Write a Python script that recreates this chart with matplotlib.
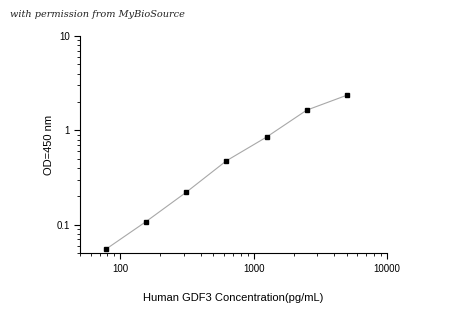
"""
Standard curve: Human GDF3 ELISA, OD at 450 nm vs concentration (log-log).
"""

import matplotlib
matplotlib.use("Agg")
import matplotlib.pyplot as plt
from matplotlib.ticker import LogLocator, FixedLocator, FixedFormatter, NullFormatter

concentration = [78.125, 156.25, 312.5, 625, 1250, 2500, 5000]
od450 = [0.055, 0.108, 0.221, 0.476, 0.85, 1.64, 2.36]

x_ticks = [100, 1000, 10000]
x_tick_labels = ["100", "1000", "10000"]
y_ticks = [0.1, 1, 10]
y_tick_labels = ["0.1", "1", "10"]

plt.rcParams["font.family"] = ["Liberation Sans", "DejaVu Sans"]

fig = plt.figure(figsize=(4.5, 3.14), dpi=100)
ax = fig.add_axes([0.178, 0.194, 0.682, 0.691])

ax.plot(concentration, od450, "-", color="#a8a8a8", lw=0.8, zorder=2)
ax.plot(concentration, od450, "s", color="black", ms=3.5, zorder=3)

ax.set_xscale("log")
ax.set_yscale("log")
ax.set_xlim(50, 10000)
ax.set_ylim(0.05, 10)

for side in ("top", "right"):
    ax.spines[side].set_visible(False)
for side in ("left", "bottom"):
    ax.spines[side].set_linewidth(0.8)

ax.xaxis.set_major_locator(FixedLocator(x_ticks))
ax.xaxis.set_major_formatter(FixedFormatter(x_tick_labels))
ax.yaxis.set_major_locator(FixedLocator(y_ticks))
ax.yaxis.set_major_formatter(FixedFormatter(y_tick_labels))
ax.xaxis.set_minor_locator(LogLocator(base=10, subs=range(2, 10)))
ax.yaxis.set_minor_locator(LogLocator(base=10, subs=range(2, 10)))
ax.xaxis.set_minor_formatter(NullFormatter())
ax.yaxis.set_minor_formatter(NullFormatter())

ax.tick_params(which="major", direction="out", length=4, width=0.8, labelsize=7)
ax.tick_params(which="minor", direction="out", length=2, width=0.6)

ax.set_xlabel("Human GDF3 Concentration(pg/mL)", fontsize=8, labelpad=14)
ax.set_ylabel("OD=450 nm", fontsize=8, labelpad=2)

fig.text(0.022, 0.945, "with permission from MyBioSource", fontsize=7,
         style="italic", family="DejaVu Serif", color="#222222")

fig.savefig("out.png", dpi=100)
plt.close(fig)
